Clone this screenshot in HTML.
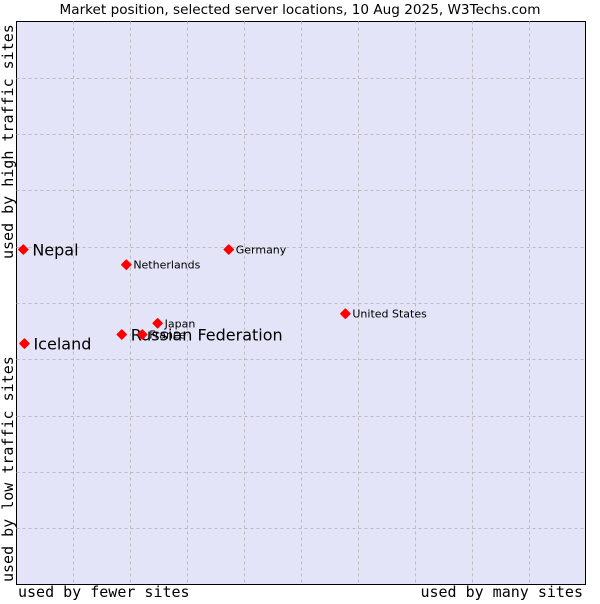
<!DOCTYPE html>
<html><head><meta charset="utf-8"><style>
body{margin:0;background:#fff;width:600px;height:600px;overflow:hidden;font-family:"DejaVu Sans","Liberation Sans",sans-serif}
</style></head><body>
<svg id="chart" width="600" height="600" xmlns="http://www.w3.org/2000/svg" font-family="DejaVu Sans, Liberation Sans, sans-serif">
<text x="300" y="14" text-anchor="middle" font-size="13.6" fill="#000">Market position, selected server locations, 10 Aug 2025, W3Techs.com</text>
<rect x="16.5" y="21.5" width="569" height="563" fill="#e3e4f7" stroke="#000" stroke-width="1"/>
<g id="grid"></g>
<g id="marks"></g>
<g font-family="DejaVu Sans Mono, Liberation Mono, monospace" font-size="15">
<text x="18" y="597">used by fewer sites</text>
<text x="583" y="597" text-anchor="end">used by many sites</text>
<text transform="translate(13,582) rotate(-90)">used by low traffic sites</text>
<text transform="translate(13,259) rotate(-90)">used by high traffic sites</text>
</g>
</svg>
<script>
const countries=["Nepal","Iceland","Russian Federation","France","Japan","Netherlands","Germany","United States"];
const xValues=[1.2,1.4,18.5,22.1,24.8,19.3,37.3,57.8];
const yValues=[59.5,42.8,44.4,44.4,46.4,56.8,59.5,48.1];
const bigLabel=[true,true,true,false,false,false,false,false];
const gridTicks=[10,20,30,40,50,60,70,80,90];
const NS="http://www.w3.org/2000/svg";
const X0=16.5,X1=585.5,Y0=584.5,Y1=21.5;
const sx=v=>X0+(X1-X0)*v/100, sy=v=>Y0-(Y0-Y1)*v/100;
const grid=document.getElementById('grid'), marks=document.getElementById('marks');
gridTicks.forEach(t=>{
 const v=document.createElementNS(NS,'line');
 
 
 const x=Math.round(sx(t))+0.5;
 v.setAttribute('x1',x);v.setAttribute('x2',x);v.setAttribute('y1',Y1);v.setAttribute('y2',Y0);
 v.setAttribute('stroke','#bbb');v.setAttribute('stroke-dasharray','3,3');grid.appendChild(v);
 const h=document.createElementNS(NS,'line');
 
 
 const y=Math.round(sy(t))+0.5;
 h.setAttribute('x1',X0);h.setAttribute('x2',X1);h.setAttribute('y1',y);h.setAttribute('y2',y);
 h.setAttribute('stroke','#bbb');h.setAttribute('stroke-dasharray','3,3');grid.appendChild(h);
});
countries.forEach((c,i)=>{
 const x=sx(xValues[i]),y=sy(yValues[i]);
 const p=document.createElementNS(NS,'polygon');
 
 
 p.setAttribute('points',`${x},${y-4.5} ${x+4.5},${y} ${x},${y+4.5} ${x-4.5},${y}`);
 p.setAttribute('fill','#f00');p.setAttribute('stroke','#f00');p.setAttribute('stroke-width','1.5');p.setAttribute('stroke-linejoin','round');
 marks.appendChild(p);
 const t=document.createElementNS(NS,'text');
 
 
 t.setAttribute('x',x+(bigLabel[i]?9:7));
 t.setAttribute('y',y+(bigLabel[i]?6:4));
 t.setAttribute('font-size',bigLabel[i]?16:11);
 t.setAttribute('fill','#000');
 t.textContent=c;
 marks.appendChild(t);
});
</script>
</body></html>
